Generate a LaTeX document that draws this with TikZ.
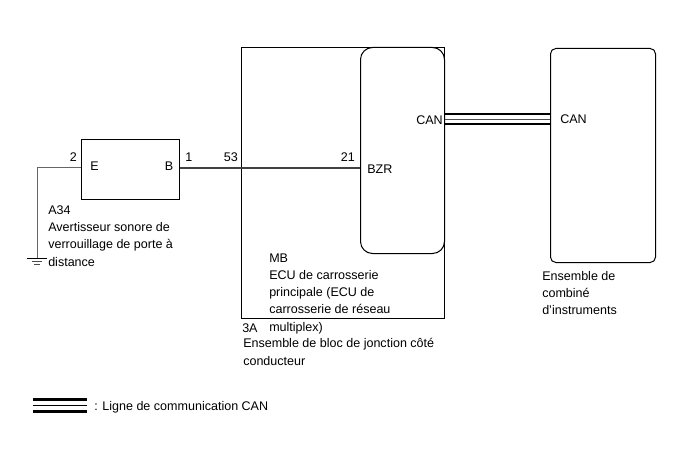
\documentclass[tikz,border=0pt]{standalone}
\usepackage{fontspec}
\setmainfont{Liberation Sans}
\begin{document}
\begin{tikzpicture}[x=0.75pt,y=-0.75pt,
  font=\fontsize{9.4}{12.9}\selectfont,
  sz/.style 2 args={minimum width=#1*0.75pt, minimum height=#2*0.75pt},
  box/.style={draw, line width=0.75pt, inner sep=0pt, anchor=north west},
  lbl/.style={inner sep=0pt, anchor=base west, align=left},
  lble/.style={inner sep=0pt, anchor=base east},
  wire/.style={line width=0.9pt, draw=black!75},
  gwire/.style={line width=0.75pt, draw=black!60},
  busout/.style={line width=1.5pt},
  busmid/.style={line width=0.7pt, draw=black!70},
  legout/.style={line width=2.25pt},
  legmid/.style={line width=0.75pt},
]
\useasboundingbox (0,0) rectangle (688,463);

% boxes
\node[box, sz={203}{271}] (jb) at (241,47) {};
\node[box, sz={84}{206}, rounded corners=9pt, fill=white] (mb) at (360,47) {};
\node[box, sz={105}{214}, rounded corners=4pt] (cmb) at (550,48) {};
\node[box, sz={98}{60}] (a34) at (81,139) {};

% pins
\coordinate (pinB) at (a34.east |- 0,168);
\coordinate (pinE) at (a34.west |- 0,168);
\coordinate (pinBZR) at (mb.west |- 0,168);
\coordinate (gnd) at (37,258);
\coordinate (canL) at (mb.east |- 0,119);
\coordinate (canR) at (cmb.west |- 0,119);

% wires
\draw[wire] (pinB) -- (pinBZR);
\draw[gwire] (pinE) -| (gnd);
\draw[line width=0.75pt] (27,258) -- (47,258);
\draw[line width=0.6pt, draw=black!70] (32,261.5) -- (42,261.5);
\draw[line width=0.6pt, draw=black!70] (34,264.5) -- (40,264.5);

% CAN bus
\draw[busout] ([yshift=3.75pt]canL) -- ([yshift=3.75pt]canR);
\draw[busout] ([yshift=-3.75pt]canL) -- ([yshift=-3.75pt]canR);
\draw[busmid] (canL) -- (canR);

% pin labels
\node[lble] (t2) at (77,162) {2};
\node[lbl] (t1) at (185,162) {1};
\node[lble] (t53) at (238,162) {53};
\node[lble] (t21) at (355,162) {21};
\node[lbl] (tE) at (90,171) {E};
\node[lble] (tB) at (173.5,171) {B};
\node[lbl] (tBZR) at (367,174) {BZR};
\node[lble] (tcanL) at (443,125) {CAN};
\node[lbl] (tcanR) at (560,123.5) {CAN};

% descriptions (base anchor = last line's baseline)
\node[lbl] (dA34) at (48,266) {A34\\Avertisseur sonore de\\verrouillage de porte à\\distance};
\node[lbl] (dMB) at (269,331) {MB\\ECU de carrosserie\\principale (ECU de\\carrosserie de réseau\\multiplex)};
\node[lbl] (d3A) at (242,332) {3A};
\node[lbl] (d3Ab) at (243,365) {Ensemble de bloc de jonction côté\\conducteur};
\node[lbl] (dcmb) at (542,314.5) {Ensemble de\\combiné\\d\char39 instruments};

% legend
\coordinate (lgA) at (33,405.5);
\coordinate (lgB) at (87,405.5);
\draw[legout] ([yshift=4.5pt]lgA) -- ([yshift=4.5pt]lgB);
\draw[legout] ([yshift=-4.5pt]lgA) -- ([yshift=-4.5pt]lgB);
\draw[legmid] (lgA) -- (lgB);
\node[lbl] (tleg) at (94,410.5) {: Ligne de communication CAN};
\end{tikzpicture}
\end{document}
